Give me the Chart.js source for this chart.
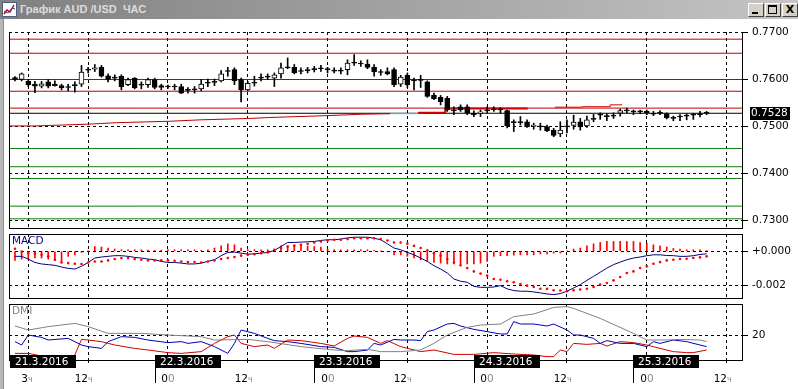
<!DOCTYPE html>
<html>
<head>
<meta charset="utf-8">
<script src="https://cdn.jsdelivr.net/npm/chart.js@4.4.1/dist/chart.umd.min.js"></script>
<style>
html, body { margin: 0; padding: 0; background: #fff; }
#win { position: relative; width: 798px; height: 389px; overflow: hidden; background: #fff; }
#title { position: absolute; left: 0; top: 0; width: 798px; height: 19px; background: linear-gradient(to right, #808080, #c4c4c4); }
#title .txt { position: absolute; left: 20px; top: 2px; font: bold 11px "Liberation Sans", Arial, sans-serif; color: #dcdcdc; white-space: pre; line-height: 15px; }
#ico { position: absolute; left: 2px; top: 2px; }
.btn { position: absolute; top: 3px; width: 16px; height: 14px; background: #d4d0c8; box-sizing: border-box;
       border: 1px solid; border-color: #fff #404040 #404040 #fff; }
#lborder { position: absolute; left: 0; top: 19px; width: 3px; height: 370px; background: #b8b8b8; border-right: 1px solid #8c8c8c; }
canvas { position: absolute; left: 0; top: 0; }
</style>
</head>
<body>
<div id="win">
  <div id="title">
    <svg id="ico" width="15" height="15"><rect x="0.5" y="0.5" width="14" height="14" fill="#fff" stroke="#506080"/>
      <polyline points="2,12 5,8 8,10 12,3" fill="none" stroke="#c00000" stroke-width="1.5"/>
      <polyline points="2,9 6,11 10,6 13,7" fill="none" stroke="#3050b0" stroke-width="1"/></svg>
    <span class="txt">График AUD /USD  ЧАС</span>
    <div class="btn" style="left:748px"><div style="position:absolute;left:3px;top:8px;width:6px;height:2px;background:#000"></div></div>
    <div class="btn" style="left:765px"><div style="position:absolute;left:2px;top:1px;width:9px;height:9px;box-sizing:border-box;border:1px solid #000;border-top-width:2px"></div></div>
    <div class="btn" style="left:782px;font:bold 11px 'DejaVu Sans';text-align:center;line-height:12px">X</div>
  </div>
  <div id="lborder"></div>
  <canvas id="main" width="798" height="389"></canvas>
  <canvas id="macd" width="798" height="389"></canvas>
  <canvas id="dmi" width="798" height="389"></canvas>
</div>
<script>
// hourly candles, index 0 = 21.3 01:00 ... index 104 = 25.3 09:00
var candleOpen = [0.7604,0.7600,0.7596,0.7590,0.7586,0.7595,0.7590,0.7587,0.7585,0.7587,
  0.7590,0.7620,0.7622,0.7626,0.7608,0.7605,0.7607,0.7589,0.7603,0.7590,
  0.7589,0.7600,0.7587,0.7585,0.7584,0.7585,0.7578,0.7578,0.7580,0.7592,
  0.7594,0.7597,0.7617,0.7621,0.7600,0.7578,0.7592,0.7603,0.7605,0.7603,
  0.7612,0.7625,0.7626,0.7619,0.7619,0.7621,0.7623,0.7623,0.7620,0.7618,
  0.7621,0.7635,0.7635,0.7633,0.7626,0.7616,0.7617,0.7621,0.7590,0.7609,
  0.7598,0.7598,0.7595,0.7567,0.7562,0.7560,0.7535,0.7542,0.7542,0.7528,
  0.7528,0.7533,0.7535,0.7537,0.7534,0.7508,0.7509,0.7510,0.7500,0.7501,
  0.7499,0.7492,0.7484,0.7499,0.7502,0.7510,0.7501,0.7515,0.7524,0.7522,
  0.7522,0.7528,0.7533,0.7531,0.7532,0.7532,0.7528,0.7528,0.7527,0.7518,
  0.7520,0.7522,0.7524,0.7525,0.7528];
var candleHigh = [0.7606,0.7614,0.7600,0.7596,0.7596,0.7600,0.7597,0.7590,0.7590,0.7595,
  0.7630,0.7626,0.7632,0.7630,0.7612,0.7610,0.7610,0.7603,0.7604,0.7595,
  0.7603,0.7603,0.7590,0.7588,0.7590,0.7590,0.7583,0.7585,0.7600,0.7601,
  0.7601,0.7619,0.7626,0.7625,0.7603,0.7596,0.7607,0.7612,0.7612,0.7614,
  0.7635,0.7646,0.7632,0.7625,0.7626,0.7628,0.7630,0.7626,0.7625,0.7625,
  0.7642,0.7653,0.7640,0.7642,0.7632,0.7621,0.7625,0.7625,0.7609,0.7614,
  0.7603,0.7609,0.7597,0.7571,0.7566,0.7564,0.7542,0.7546,0.7546,0.7533,
  0.7535,0.7542,0.7542,0.7540,0.7535,0.7514,0.7521,0.7514,0.7507,0.7507,
  0.7503,0.7496,0.7510,0.7514,0.7524,0.7517,0.7522,0.7526,0.7529,0.7527,
  0.7529,0.7537,0.7539,0.7535,0.7535,0.7535,0.7532,0.7534,0.7529,0.7522,
  0.7525,0.7527,0.7528,0.7532,0.7532];
var candleLow = [0.7597,0.7597,0.7585,0.7572,0.7582,0.7582,0.7586,0.7578,0.7576,0.7573,
  0.7585,0.7614,0.7617,0.7605,0.7595,0.7597,0.7578,0.7587,0.7580,0.7580,
  0.7583,0.7580,0.7578,0.7581,0.7578,0.7570,0.7571,0.7571,0.7576,0.7585,
  0.7587,0.7595,0.7607,0.7589,0.7552,0.7576,0.7586,0.7597,0.7600,0.7585,
  0.7603,0.7623,0.7612,0.7612,0.7614,0.7616,0.7617,0.7614,0.7614,0.7612,
  0.7610,0.7630,0.7628,0.7623,0.7607,0.7609,0.7610,0.7585,0.7585,0.7583,
  0.7578,0.7583,0.7562,0.7557,0.7546,0.7532,0.7525,0.7532,0.7525,0.7521,
  0.7521,0.7528,0.7532,0.7528,0.7497,0.7489,0.7503,0.7498,0.7494,0.7492,
  0.7489,0.7478,0.7478,0.7486,0.7494,0.7492,0.7498,0.7510,0.7515,0.7512,
  0.7517,0.7522,0.7529,0.7525,0.7527,0.7525,0.7523,0.7525,0.7516,0.7512,
  0.7512,0.7514,0.7515,0.7520,0.7525];
var candleClose = [0.7600,0.7612,0.7589,0.7586,0.7591,0.7586,0.7587,0.7582,0.7583,0.7589,
  0.7616,0.7622,0.7625,0.7607,0.7600,0.7603,0.7585,0.7600,0.7582,0.7588,
  0.7600,0.7583,0.7583,0.7584,0.7585,0.7571,0.7577,0.7580,0.7590,0.7594,
  0.7595,0.7612,0.7619,0.7597,0.7578,0.7592,0.7593,0.7605,0.7607,0.7610,
  0.7625,0.7626,0.7614,0.7617,0.7620,0.7622,0.7624,0.7621,0.7618,0.7620,
  0.7635,0.7637,0.7633,0.7626,0.7616,0.7615,0.7612,0.7589,0.7605,0.7589,
  0.7597,0.7600,0.7564,0.7559,0.7553,0.7535,0.7533,0.7535,0.7528,0.7525,
  0.7531,0.7535,0.7537,0.7535,0.7501,0.7510,0.7508,0.7499,0.7503,0.7499,
  0.7491,0.7481,0.7492,0.7501,0.7509,0.7499,0.7514,0.7517,0.7526,0.7521,
  0.7524,0.7534,0.7535,0.7532,0.7531,0.7529,0.7526,0.7529,0.7518,0.7517,
  0.7521,0.7523,0.7525,0.7527,0.7528];

var resistLevels = [0.7686, 0.7656, 0.7600, 0.7575, 0.7539];
var supportLevels = [0.7453, 0.7414, 0.7389, 0.7330, 0.7303];
var lastPrice = 0.7528;
var trendIdx = [-0.9, 3.0, 7.2, 11.3, 15.3, 23.3, 27.8, 35.3, 38.3, 46.9, 52.3, 56.4];
var trendVal = [0.7501, 0.7501, 0.7503, 0.7505, 0.7508, 0.7511, 0.7514, 0.7517, 0.7519, 0.7523, 0.7526, 0.7527];
var cyanIdx = [56.4, 60.6];
var cyanVal = [0.7527, 0.7527];
var stepIdx = [60.6, 64.7, 64.7, 77.1];
var stepVal = [0.7529, 0.7529, 0.7538, 0.7538];
var upperIdx = [81.2, 85.3, 85.3, 89.5, 89.5, 91.3];
var upperVal = [0.7541, 0.7541, 0.7542, 0.7542, 0.7546, 0.7546];

var macdMain = [-0.00030,-0.00030,-0.00046,-0.00066,-0.00075,-0.00079,-0.00083,-0.00093,-0.00101,-0.00105,
  -0.00089,-0.00066,-0.00040,-0.00034,-0.00030,-0.00026,-0.00026,-0.00030,-0.00036,-0.00040,
  -0.00046,-0.00050,-0.00060,-0.00066,-0.00066,-0.00070,-0.00075,-0.00075,-0.00070,-0.00060,
  -0.00050,-0.00026,-0.00007,-0.00005,-0.00011,-0.00017,-0.00015,-0.00011,-0.00007,0.00005,
  0.00028,0.00052,0.00052,0.00054,0.00056,0.00058,0.00064,0.00068,0.00068,0.00072,
  0.00079,0.00083,0.00083,0.00083,0.00077,0.00068,0.00044,0.00019,0.00009,-0.00007,
  -0.00021,-0.00040,-0.00060,-0.00085,-0.00105,-0.00128,-0.00164,-0.00177,-0.00183,-0.00207,
  -0.00213,-0.00213,-0.00211,-0.00203,-0.00222,-0.00232,-0.00236,-0.00236,-0.00240,-0.00246,
  -0.00252,-0.00256,-0.00250,-0.00236,-0.00217,-0.00197,-0.00172,-0.00148,-0.00124,-0.00099,
  -0.00079,-0.00064,-0.00050,-0.00040,-0.00034,-0.00026,-0.00021,-0.00021,-0.00025,-0.00026,
  -0.00030,-0.00030,-0.00026,-0.00019,-0.00015];
var macdSignal = [0.00015,-0.00001,-0.00011,-0.00015,-0.00021,-0.00030,-0.00050,-0.00066,-0.00070,-0.00074,
  -0.00075,-0.00066,-0.00060,-0.00060,-0.00054,-0.00046,-0.00040,-0.00040,-0.00046,-0.00050,
  -0.00054,-0.00054,-0.00054,-0.00054,-0.00056,-0.00060,-0.00064,-0.00064,-0.00066,-0.00060,
  -0.00054,-0.00046,-0.00040,-0.00034,-0.00026,-0.00021,-0.00017,-0.00011,-0.00007,0.00009,
  0.00019,0.00028,0.00032,0.00038,0.00044,0.00052,0.00058,0.00064,0.00068,0.00068,
  0.00072,0.00077,0.00077,0.00077,0.00077,0.00072,0.00064,0.00052,0.00052,0.00044,
  0.00032,0.00019,0.00005,-0.00011,-0.00026,-0.00046,-0.00066,-0.00083,-0.00099,-0.00119,
  -0.00132,-0.00144,-0.00164,-0.00168,-0.00177,-0.00183,-0.00193,-0.00203,-0.00211,-0.00221,
  -0.00222,-0.00230,-0.00232,-0.00236,-0.00230,-0.00226,-0.00221,-0.00211,-0.00197,-0.00187,
  -0.00172,-0.00152,-0.00128,-0.00119,-0.00099,-0.00089,-0.00074,-0.00064,-0.00054,-0.00050,
  -0.00046,-0.00044,-0.00040,-0.00036,-0.00030];
var macdHist = [-0.00054,-0.00046,-0.00046,-0.00040,-0.00040,-0.00046,-0.00054,-0.00060,-0.00030,-0.00021,
  -0.00007,0.00001,0.00028,0.00025,0.00019,0.00013,0.00009,0.00009,0.00009,0.00009,
  0.00007,0.00005,0.00007,0.00009,0.00009,0.00009,0.00009,0.00009,0.00005,0.00009,
  0.00019,0.00032,0.00044,0.00038,0.00019,0.00009,0.00009,0.00009,0.00009,0.00009,
  0.00032,0.00032,0.00038,0.00038,0.00032,0.00028,0.00025,0.00013,0.00009,0.00009,
  0.00009,0.00009,0.00009,0.00009,0.00005,0.00001,-0.00003,-0.00021,-0.00021,-0.00030,
  -0.00040,-0.00050,-0.00060,-0.00066,-0.00070,-0.00075,-0.00075,-0.00075,-0.00075,-0.00075,
  -0.00070,-0.00060,-0.00030,-0.00026,-0.00026,-0.00023,-0.00021,-0.00021,-0.00021,-0.00015,
  -0.00015,-0.00011,-0.00011,0.00003,0.00013,0.00019,0.00032,0.00044,0.00052,0.00058,
  0.00058,0.00058,0.00058,0.00058,0.00052,0.00048,0.00038,0.00032,0.00025,0.00017,
  0.00013,0.00009,0.00009,0.00009,0.00005];

var adxIdx = [0,2,5,9,11,14,19,23,28,30,35,38,43,48,50,53,55,58,61,63,65,68,70,73,75,78,81,83,84,88,93,95,98,100,103,104];
var adxVal = [27.2,24.0,26.7,29.3,26.7,21.3,21.3,20.0,18.7,16.0,16.5,14.7,10.7,8.0,7.5,8.5,6.7,6.7,8.0,13.3,20.0,26.1,28.0,28.8,34.7,36.8,42.1,42.7,41.3,33.3,21.3,16.0,16.0,16.5,16.0,14.7];
var plusDiIdx = [0,1,2,4,5,8,10,11,13,14,16,18,20,23,25,26,28,30,32,33,34,36,38,39,41,43,46,48,50,51,
  53,54,55,57,58,60,61,62,63,65,66,67,69,71,73,74,75,76,78,80,81,83,84,85,87,88,89,91,93,95,96,97,99,101,103,104];
var plusDiVal = [14.7,12.0,20.0,18.1,16.0,17.3,12.0,10.7,9.3,14.7,18.7,18.1,16.0,13.9,14.7,13.3,14.7,10.7,5.3,13.3,
  24.0,21.3,17.3,15.5,14.7,13.3,10.7,10.1,6.7,6.7,8.0,13.3,12.0,16.5,16.0,16.0,15.5,22.7,24.0,28.8,
  29.3,27.2,24.5,22.7,20.8,20.8,30.7,28.8,28.8,27.2,28.8,24.0,20.0,20.0,17.3,13.3,15.5,13.3,13.3,10.7,
  14.7,13.3,16.0,14.7,12.0,10.7];
var minusDiIdx = [0,2,5,8,9,10,11,13,15,18,20,23,25,28,30,32,33,34,36,38,39,41,43,46,48,50,51,53,55,56,
  58,61,63,66,69,72,75,78,80,81,82,83,84,86,88,89,91,93,95,97,99,101,102,104];
var minusDiVal = [5.3,5.3,2.1,2.1,4.0,16.5,16.0,14.7,12.0,9.3,8.0,5.9,5.3,6.7,13.3,18.7,20.0,13.3,10.7,12.0,
  9.3,16.0,15.5,13.3,11.2,17.3,19.2,18.1,13.3,15.5,10.7,6.7,8.0,4.5,4.5,5.9,4.8,4.0,2.7,2.7,
  8.0,6.7,13.3,12.5,13.3,11.2,14.7,13.9,12.0,9.3,6.7,5.9,5.9,8.0];

var priceTicks = [0.77, 0.76, 0.75, 0.74, 0.73];
var macdTicks = [0, -0.002];
var dmiTicks = [20];
var timeTicks = [2, 11, 23, 35, 47, 59, 71, 83, 95, 107];
var timeLabels = ['3ч', '12ч', '00', '12ч', '00', '12ч', '00', '12ч', '00', '12ч'];
var dayStarts = [-0.75, 21, 45, 69, 93];
var dayLabels = ['21.3.2016', '22.3.2016', '23.3.2016', '24.3.2016', '25.3.2016'];

var X_MIN = -0.9, X_MAX = 109.47;
var FONT = '10.5px "DejaVu Sans"';

Chart.defaults.font.family = 'DejaVu Sans';
Chart.defaults.font.size = 10.5;
Chart.defaults.color = '#000';

function pts(xs, ys) {
  return xs.map(function (x, k) { return {x: x, y: ys[k]}; });
}
function hline(v, color) {
  return {type: 'line', data: [{x: X_MIN - 2, y: v}, {x: X_MAX + 2, y: v}], borderColor: color,
          borderWidth: 1, pointRadius: 0, order: 6};
}

function panelOptions(top, bottom, yMin, yMax, yTicks, fmt, tickMarks) {
  return {
    responsive: false, animation: false, devicePixelRatio: 1, events: [],
    layout: {padding: {left: 9, right: 0, top: top, bottom: 389 - bottom}},
    plugins: {legend: {display: false}, tooltip: {enabled: false}},
    scales: {
      x: {
        type: 'linear', min: X_MIN, max: X_MAX, offset: false,
        afterBuildTicks: function (s) { s.ticks = timeTicks.map(function (v) { return {value: v}; }); },
        afterFit: function (s) { s.height = 0; },
        ticks: {display: false},
        grid: {offset: false, color: '#000', drawTicks: tickMarks, tickLength: 4, tickColor: '#000', tickBorderDash: [3, 3]},
        border: {display: false, dash: [3, 3]}
      },
      y: {
        type: 'linear', position: 'right', min: yMin, max: yMax, beginAtZero: false,
        afterBuildTicks: function (s) { s.ticks = yTicks.map(function (v) { return {value: v}; }); },
        afterFit: function (s) { s.width = 55; },
        ticks: {callback: fmt, padding: 4, color: '#000', font: {size: 10.5}},
        grid: {color: '#000', tickLength: 5, tickColor: '#000', tickBorderDash: []},
        border: {display: false, dash: [3, 3]}
      }
    }
  };
}

function frame(drawTop) {
  return {
    id: 'frame',
    afterDatasetsDraw: function (chart) {
      var a = chart.chartArea, c = chart.ctx;
      c.save();
      c.strokeStyle = '#000';
      c.lineWidth = 1;
      c.beginPath();
      if (drawTop) { c.moveTo(a.left, a.top + 0.5); c.lineTo(a.right, a.top + 0.5); }
      c.moveTo(a.left + 0.5, a.top); c.lineTo(a.left + 0.5, a.bottom + 1);
      c.moveTo(a.left, a.bottom + 0.5); c.lineTo(a.right, a.bottom + 0.5);
      c.moveTo(a.right - 0.5, a.top); c.lineTo(a.right - 0.5, a.bottom + 1);
      c.stroke();
      c.restore();
    }
  };
}

// ---------- price panel ----------
var idx = candleOpen.map(function (_, i) { return i; });
var bodyColors = idx.map(function (i) {
  var d = candleClose[i] - candleOpen[i];
  return (Math.abs(d) < 0.00025 || d < 0) ? '#000' : '#fff';
});
var mainSets = [
  {type: 'bar', data: idx.map(function (i) { return {x: i, y: [candleOpen[i], candleClose[i]]}; }),
   backgroundColor: bodyColors, borderColor: '#000', borderWidth: 1, borderSkipped: false,
   barThickness: 5, minBarLength: 1, grouped: false, order: 1},
  {type: 'bar', data: idx.map(function (i) { return {x: i, y: [candleLow[i], candleHigh[i]]}; }),
   backgroundColor: '#000', barThickness: 1, grouped: false, order: 2},
  {type: 'line', data: pts(trendIdx, trendVal), borderColor: '#c00000', borderWidth: 1, pointRadius: 0, order: 4},
  {type: 'line', data: pts(cyanIdx, cyanVal), borderColor: '#40e0f0', borderWidth: 1, pointRadius: 0, order: 4},
  {type: 'line', data: pts(stepIdx, stepVal), borderColor: '#d00000', borderWidth: 2, pointRadius: 0, order: 4},
  {type: 'line', data: pts(upperIdx, upperVal), borderColor: '#d00000', borderWidth: 1, pointRadius: 0, order: 4},
  hline(lastPrice, '#000')
];
resistLevels.forEach(function (v) { mainSets.push(hline(v, '#c00000')); });
supportLevels.forEach(function (v) { mainSets.push(hline(v, '#108010')); });

var mainOpts = panelOptions(32, 228, 0.72834, 0.77013, priceTicks,
  function (v) { return v.toFixed(4); }, false);

new Chart(document.getElementById('main'), {
  type: 'bar',
  data: {datasets: mainSets},
  options: mainOpts,
  plugins: [frame(false), {
    id: 'priceTag',
    afterDraw: function (chart) {
      var c = chart.ctx, y = Math.round(chart.scales.y.getPixelForValue(lastPrice));
      c.save();
      c.fillStyle = '#000';
      c.fillRect(750, y - 6, 40, 13);
      c.fillStyle = '#fff';
      c.font = FONT;
      c.textBaseline = 'middle';
      c.fillText(lastPrice.toFixed(4), 751, y + 0.5);
      c.restore();
    }
  }]
});

// ---------- MACD panel ----------
new Chart(document.getElementById('macd'), {
  type: 'bar',
  data: {datasets: [
    {type: 'line', data: pts(idx, macdSignal), showLine: false, pointRadius: 1.3, pointBorderWidth: 0,
     pointBackgroundColor: '#ff0000', order: 1},
    {type: 'line', data: pts(idx, macdMain), borderColor: '#000080', borderWidth: 1, pointRadius: 0, order: 2},
    {type: 'bar', data: pts(idx, macdHist), backgroundColor: '#ff0000', barThickness: 1, grouped: false, order: 3}
  ]},
  options: panelOptions(234, 298, -0.00276, 0.00102, macdTicks,
    function (v) { return (v >= 0 ? '+' : '') + v.toFixed(3); }, false),
  plugins: [frame(true), {
    id: 'macdTitle',
    afterDraw: function (chart) {
      var c = chart.ctx;
      c.save(); c.fillStyle = '#000080'; c.font = FONT; c.textBaseline = 'top';
      c.fillText('MACD', 12, 236); c.restore();
    }
  }]
});

// ---------- DMI panel + time axis ----------
new Chart(document.getElementById('dmi'), {
  type: 'line',
  data: {datasets: [
    {data: pts(adxIdx, adxVal), borderColor: '#808080', borderWidth: 1, pointRadius: 0},
    {data: pts(plusDiIdx, plusDiVal), borderColor: '#0000b0', borderWidth: 1, pointRadius: 0},
    {data: pts(minusDiIdx, minusDiVal), borderColor: '#d00000', borderWidth: 1, pointRadius: 0}
  ]},
  options: panelOptions(304, 360, 0, 44.8, dmiTicks, function (v) { return String(v); }, true),
  plugins: [frame(true), {
    id: 'timeAxis',
    afterDraw: function (chart) {
      var c = chart.ctx, xs = chart.scales.x;
      c.save();
      c.font = FONT;
      c.fillStyle = '#808080'; c.textBaseline = 'top';
      c.fillText('DMI', 12, 306);
      // hour labels: hour digits in black, suffix in grey
      c.textBaseline = 'alphabetic';
      timeTicks.forEach(function (v, k) {
        var px = Math.round(xs.getPixelForValue(v));
        var lbl = timeLabels[k], head = lbl.slice(0, -1), tail = lbl.slice(-1);
        c.font = FONT;
        c.fillStyle = '#000'; c.textAlign = 'right';
        c.fillText(head, px, 382);
        c.font = tail === 'ч' ? '8px "DejaVu Sans"' : FONT;
        c.fillStyle = '#8a8a8a'; c.textAlign = 'left';
        c.fillText(tail, px, 382);
      });
      // day boxes
      c.font = FONT;
      c.textAlign = 'left'; c.textBaseline = 'middle';
      dayStarts.forEach(function (v, k) {
        var px = Math.round(xs.getPixelForValue(v));
        if (k > 0) {
          c.fillStyle = '#000';
          c.fillRect(px, 355, 1, 28);
        }
        c.fillStyle = '#000';
        c.fillRect(px, 355, 66, 13);
        c.fillStyle = '#fff';
        c.fillText(dayLabels[k], px + 5, 362);
      });
      c.restore();
    }
  }]
});
</script>
</body>
</html>
